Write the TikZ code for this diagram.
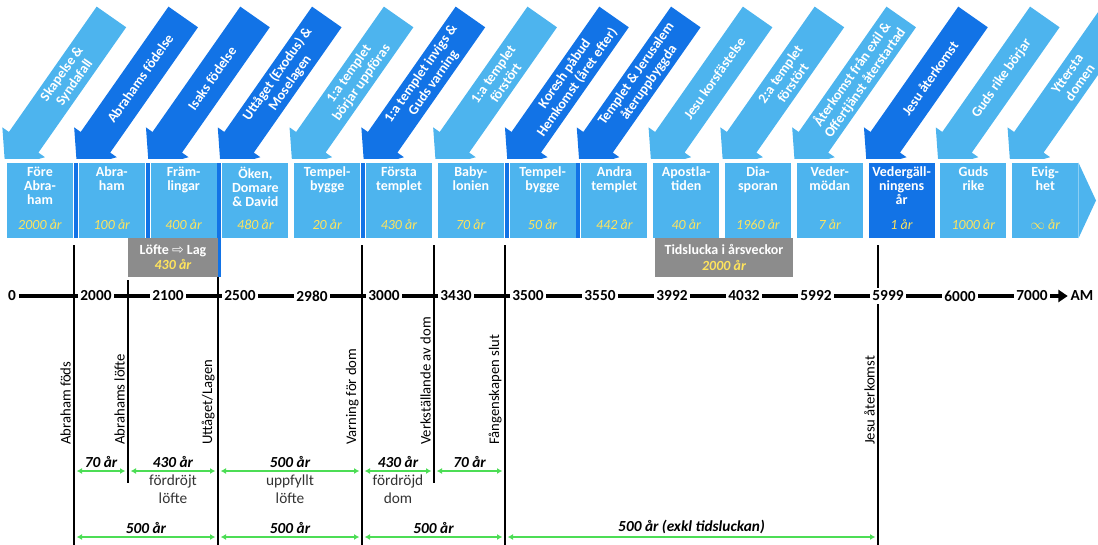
\documentclass[tikz,border=0pt]{standalone}
\usepackage{fontspec}
\setmainfont{Carlito}
\newfontfamily\dejavu{DejaVu Sans}
\usetikzlibrary{arrows.meta}

\definecolor{lightblue}{HTML}{4DB4EE}
\definecolor{darkblue}{HTML}{1273E6}
\definecolor{gapgray}{HTML}{8C8C8C}
\definecolor{yearyellow}{HTML}{FFE45C}
\definecolor{spangreen}{HTML}{4CDD55}

\tikzset{
  period/.style={minimum width=49.5pt, minimum height=56.25pt, inner sep=0pt},
  ptitle/.style={anchor=north, inner sep=0pt, align=center, text=white, font=\fontsize{10.5}{10.5}\selectfont\bfseries},
  pyears/.style={inner sep=0pt, text=yearyellow, font=\fontsize{10.5}{12}\selectfont\itshape},
  evtext/.style={inner sep=0pt, align=center, text=white, font=\fontsize{10.5}{11.5}\selectfont\bfseries},
  gapbox/.style={fill=gapgray, minimum height=29.25pt, inner sep=0pt, align=center, text=white, font=\fontsize{10.5}{11.5}\selectfont\bfseries},
  yearnum/.style={fill=white, inner sep=2pt, font=\fontsize{11.5}{12}\selectfont\bfseries},
  timeline/.style={line width=2.6pt},
  evline/.style={line width=1.6pt},
  evlabel/.style={rotate=90, anchor=south west, inner sep=0pt, font=\fontsize{11}{12}\selectfont},
  spanarrow/.style={spangreen, line width=1.5pt, {Latex[length=4pt,width=4.5pt]}-{Latex[length=4pt,width=4.5pt]}},
  spanlab/.style={midway, above, inner sep=1.5pt, text=black, font=\fontsize{11.5}{12}\selectfont\bfseries\itshape},
  spannote/.style={midway, below, inner sep=2pt, align=center, text=black!80, font=\fontsize{11.5}{13.5}\selectfont}
}

\begin{document}
\begin{tikzpicture}[x=0.75pt,y=-0.75pt]
        \useasboundingbox (0,0) rectangle (1098,545);

        % event arrows
        \begin{scope}
        \clip (0,0) rectangle (1098,159);
        \foreach \i/\c/\t in {1/lightblue/{Skapelse \&\\Syndafall},
                              2/darkblue/{Abrahams födelse},
                              3/darkblue/{Isaks födelse},
                              4/darkblue/{Uttåget (Exodus) \&\\Moselagen},
                              5/lightblue/{1:a templet\\börjar uppföras},
                              6/darkblue/{1:a templet invigs \&\\Guds varning},
                              7/lightblue/{1:a templet\\förstört},
                              8/darkblue/{Koresh påbud\\Hemkomst (året efter)},
                              9/darkblue/{Templet \& Jerusalem\\återuppbyggda},
                              10/lightblue/{Jesu korsfästelse},
                              11/lightblue/{2:a templet\\förstört},
                              12/lightblue/{Återkomst från exil \&\\Offertjänst återstartad},
                              13/darkblue/{Jesu återkomst},
                              14/lightblue/{Guds rike börjar},
                              15/lightblue/{Yttersta\\domen}}
        {
            \begin{scope}[shift={({5.3+71.8*(\i-1)},168.5)}, rotate=55]
                \fill[\c] (0,0) -- (32,-26) -- (32,-18) -- (185,-18) -- (185,18) -- (32,18) -- (32,26) -- cycle;
                \node[evtext, transform shape] (e\i) at (110,0) {\t};
            \end{scope}
        }
        \end{scope}

        % period boxes
        \foreach \i/\c/\t/\y in {1/lightblue/{Före\\Abra-\\ham}/{2000 år},
                                 2/lightblue/{Abra-\\ham}/{100 år},
                                 3/lightblue/{Främ-\\lingar}/{400 år},
                                 4/lightblue/{Öken,\\Domare\\\& David}/{480 år},
                                 5/lightblue/{Tempel-\\bygge}/{20 år},
                                 6/lightblue/{Första\\templet}/{430 år},
                                 7/lightblue/{Baby-\\lonien}/{70 år},
                                 8/lightblue/{Tempel-\\bygge}/{50 år},
                                 9/lightblue/{Andra\\templet}/{442 år},
                                 10/lightblue/{Apostla-\\tiden}/{40 år},
                                 11/lightblue/{Dia-\\sporan}/{1960 år},
                                 12/lightblue/{Veder-\\mödan}/{7 år},
                                 13/darkblue/{Vedergäll-\\ningens\\år}/{1 år},
                                 14/lightblue/{Guds\\rike}/{1000 år},
                                 15/lightblue/{Evig-\\het}/{$\infty$ år}}
        {
            \node[period, fill=\c] (b\i) at ({40+71.8*(\i-1)},200.5) {};
            \node[ptitle] at ([yshift=-3pt]b\i.north) {\t};
            \node[pyears] at ({40+71.8*(\i-1)},225) {\y};
        }
        \fill[lightblue] (b15.north east) -- (1096,200.5) -- (b15.south east) -- cycle;

        % dark strips
        \foreach \i in {2,3,6,8,9}
            \fill[darkblue] ({2+71.8*(\i-1)},163) rectangle ++(4,75);
        \fill[darkblue] (217.4,163) rectangle ++(4,114);

        % gaps
        \node[gapbox, minimum width=67.5pt] (g1) at (173,257.5) {Löfte {\dejavu\mdseries ⇨} Lag\\{\itshape\color{yearyellow}430 år}};
        \node[gapbox, minimum width=103.5pt] (g2) at (724,257.5) {Tidslucka i årsveckor\\{\itshape\color{yearyellow}2000 år}};

        % event lines
        \foreach \i/\x/\top/\bot/\lab in {1/74/245/545/{Abraham föds},
                                          2/128/280/483/{Abrahams löfte},
                                          3/218/277/545/{Uttåget/Lagen},
                                          4/362/245/545/{Varning för dom},
                                          5/434/245/483/{Verkställande av dom},
                                          6/505/245/545/{Fångenskapen slut},
                                          7/878/245/545/{Jesu återkomst}}
        {
            \coordinate (v\i) at (\x,\top);
            \coordinate (w\i) at (\x,\bot);
            \coordinate (u\i) at (\x,471);
            \coordinate (d\i) at (\x,537);
            \draw[evline] (v\i) -- (w\i);
            \node[evlabel] at ({\x-3},445) {\lab};
        }

        % timeline
        \node[yearnum] (t0) at (12,296) {0};
        \foreach \n [count=\k] in {2000,2100,2500,2980,3000,3430,3500,3550,3992,4032,5992,5999,6000,7000}
            \node[yearnum] (t\k) at ({24+72*\k},296) {\n};
        \node[yearnum] (am) at (1082,296) {AM};
        \foreach \k [remember=\k as \j (initially 0)] in {1,...,14}
            \draw[timeline] (t\j) -- (t\k);
        \draw[timeline, -{Triangle[length=7pt,width=9pt]}] (t14) -- (am);

        % spans
        \draw[spanarrow] ([xshift=2pt]u1) -- ([xshift=-2pt]u2) node[spanlab] {70 år};
        \draw[spanarrow] ([xshift=2pt]u2) -- ([xshift=-2pt]u3) node[spanlab] {430 år} node[spannote] {fördröjt\\löfte};
        \draw[spanarrow] ([xshift=2pt]u3) -- ([xshift=-2pt]u4) node[spanlab] {500 år} node[spannote] {uppfyllt\\löfte};
        \draw[spanarrow] ([xshift=2pt]u4) -- ([xshift=-2pt]u5) node[spanlab] {430 år} node[spannote] {fördröjd\\dom};
        \draw[spanarrow] ([xshift=2pt]u5) -- ([xshift=-2pt]u6) node[spanlab] {70 år};

        \draw[spanarrow] ([xshift=2pt]d1) -- ([xshift=-2pt]d3) node[spanlab] {500 år};
        \draw[spanarrow] ([xshift=2pt]d3) -- ([xshift=-2pt]d4) node[spanlab] {500 år};
        \draw[spanarrow] ([xshift=2pt]d4) -- ([xshift=-2pt]d6) node[spanlab] {500 år};
        \draw[spanarrow] ([xshift=2pt]d6) -- ([xshift=-2pt]d7) node[spanlab] {500 år (exkl tidsluckan)};
\end{tikzpicture}
\end{document}
